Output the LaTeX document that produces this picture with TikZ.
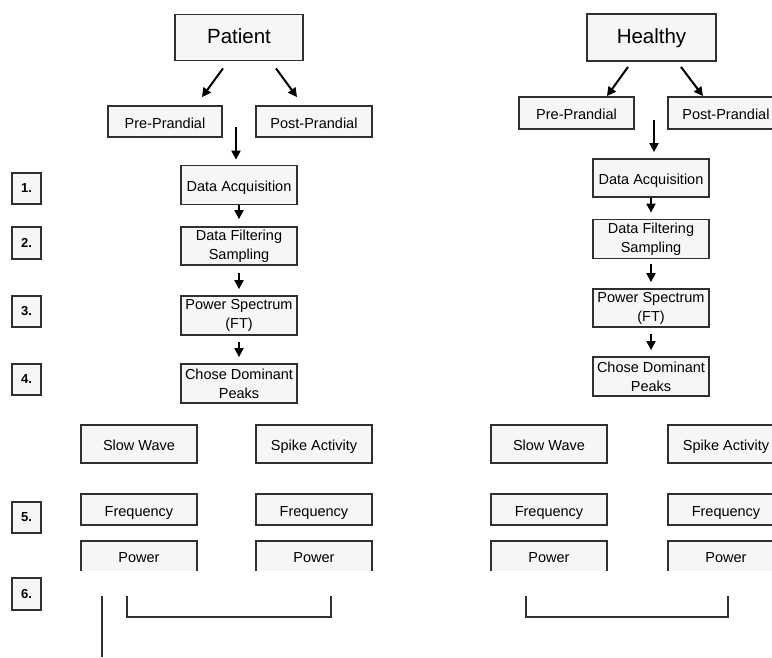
\documentclass[tikz,border=0pt]{standalone}
\usepackage{fontspec}
\setmainfont{Liberation Sans}
\usetikzlibrary{arrows.meta}
\definecolor{boxfill}{HTML}{F6F6F6}
\definecolor{boxline}{HTML}{303030}

\begin{document}
\begin{tikzpicture}[x=1pt,y=-1pt,
  box/.style={draw=boxline,fill=boxfill,line width=1.8pt,minimum width=116pt,minimum height=38pt,inner sep=0pt,align=center,font=\fontsize{14.5}{19}\selectfont},
  onebox/.style={box,text height=13.5pt,text depth=0pt},
  titlebox/.style={onebox,minimum width=128pt,minimum height=46pt,text height=16pt,text depth=4pt,font=\fontsize{20.5}{24}\selectfont},
  openbox/.style={onebox,draw=none,outer sep=0pt,minimum height=30pt},
  numbox/.style={draw=boxline,fill=boxfill,line width=1.8pt,minimum width=29pt,minimum height=31pt,inner sep=0pt,font=\fontsize{13}{15}\selectfont\bfseries},
  arr/.style={draw=black,line width=2pt,-{Triangle[length=9pt,width=9pt]}},
  bracket/.style={draw=boxline,line width=1.8pt}]
\useasboundingbox (0,0) rectangle (772,657);

% patient column
\node[titlebox] (pat) at (239,37.5) {Patient};
\node[onebox,minimum width=114pt,minimum height=31pt] (preP) at (165,121.5) {Pre-Prandial};
\node[onebox,minimum height=31pt] (postP) at (314,121.5) {Post-Prandial};
\coordinate (joinP) at (236,127);
\node[onebox,minimum height=39pt] (acqP) at (239,185) {Data Acquisition};
\node[box] (filtP) at (239,246) {Data Filtering\\Sampling};
\node[box,minimum height=39pt] (specP) at (239,315.5) {Power Spectrum\\(FT)};
\node[box,minimum height=39pt] (peakP) at (239,383.5) {Chose Dominant\\Peaks};

\draw[arr] ([xshift=-16pt,yshift=-7pt]pat.south) -- ([xshift=37pt,yshift=8pt]preP.north);
\draw[arr] ([xshift=37pt,yshift=-7pt]pat.south) -- ([xshift=-17pt,yshift=8pt]postP.north);
\draw[arr,shorten >=5pt] (joinP) -- (joinP |- acqP.north);
\draw[arr,shorten >=7pt] (acqP) -- (filtP);
\draw[arr,shorten <=7pt,shorten >=6pt] (filtP) -- (specP);
\draw[arr,shorten <=6pt,shorten >=6pt] (specP) -- (peakP);

% healthy column
\node[titlebox,minimum width=129pt,minimum height=47pt] (hea) at (651.5,37.5) {Healthy};
\node[onebox,minimum width=115pt,minimum height=32pt] (preH) at (576.5,113) {Pre-Prandial};
\node[onebox,minimum height=32pt] (postH) at (726,113) {Post-Prandial};
\coordinate (joinH) at (654,120);
\node[onebox] (acqH) at (651,178) {Data Acquisition};
\node[box,minimum height=39pt] (filtH) at (651,239) {Data Filtering\\Sampling};
\node[box] (specH) at (651,308) {Power Spectrum\\(FT)};
\node[box,minimum height=39pt] (peakH) at (651,376.5) {Chose Dominant\\Peaks};

\draw[arr] ([xshift=-23.5pt,yshift=-5pt]hea.south) -- ([xshift=30.5pt]preH.north);
\draw[arr] ([xshift=29.5pt,yshift=-5pt]hea.south) -- ([xshift=-23pt]postH.north);
\draw[arr,shorten >=6pt] (joinH) -- (joinH |- acqH.north);
\draw[arr,shorten >=6pt] (acqH) -- (filtH);
\draw[arr,shorten <=5pt,shorten >=6pt] (filtH) -- (specH);
\draw[arr,shorten <=6pt,shorten >=6pt] (specH) -- (peakH);

% step numbers
\node[numbox] (n1) at (26.5,188.5) {1.};
\node[numbox,minimum height=32pt] (n2) at (26.5,243) {2.};
\node[numbox] (n3) at (26.5,311.5) {3.};
\node[numbox] (n4) at (26.5,379.5) {4.};
\node[numbox] (n5) at (26.5,517.5) {5.};
\node[numbox,minimum height=32pt] (n6) at (26.5,594) {6.};

% results, patient
\node[onebox] (slowP) at (139,444) {Slow Wave};
\node[onebox] (spikeP) at (314,444) {Spike Activity};
\node[onebox,minimum height=31pt] (freqP) at (139,509.5) {Frequency};
\node[onebox,minimum height=31pt] (freqP2) at (314,509.5) {Frequency};
\node[openbox] (powP) at (139,556) {Power};
\node[openbox] (powP2) at (314,556) {Power};
\draw[bracket] (powP.south west) |- (powP.north east) -- (powP.south east);
\draw[bracket] (powP2.south west) |- (powP2.north east) -- (powP2.south east);
\draw[bracket] (127,596) |- (331,617) -- (331,596);
\draw[bracket] (102,596) -- (102,657);

% results, healthy
\node[onebox] (slowH) at (549,444) {Slow Wave};
\node[onebox] (spikeH) at (726,444) {Spike Activity};
\node[onebox,minimum height=31pt] (freqH) at (549,509.5) {Frequency};
\node[onebox,minimum height=31pt] (freqH2) at (726,509.5) {Frequency};
\node[openbox] (powH) at (549,556) {Power};
\node[openbox] (powH2) at (726,556) {Power};
\draw[bracket] (powH.south west) |- (powH.north east) -- (powH.south east);
\draw[bracket] (powH2.south west) |- (powH2.north east) -- (powH2.south east);
\draw[bracket] (526,596) |- (728,617) -- (728,596);
\end{tikzpicture}
\end{document}
